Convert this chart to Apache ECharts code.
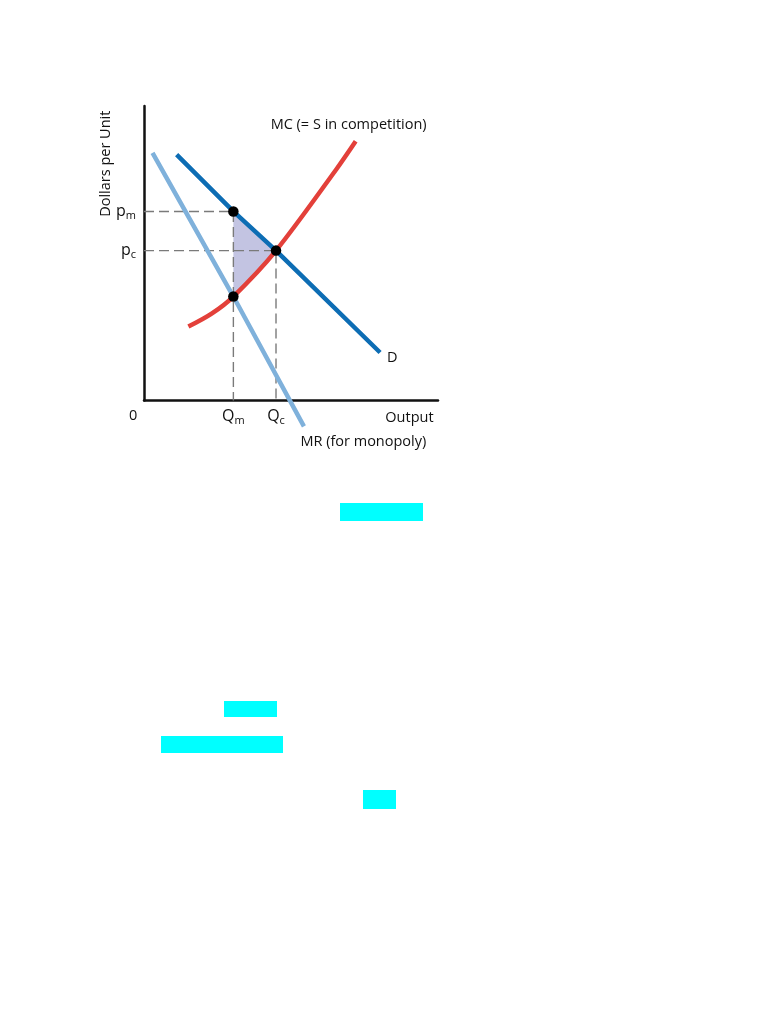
<!DOCTYPE html>
<html>
<head>
<meta charset="utf-8">
<script src="https://cdn.jsdelivr.net/npm/echarts@6/dist/echarts.min.js"></script>
<style>
html,body{margin:0;padding:0;background:#fff;}
#c{width:784px;height:1015px;}
</style>
</head>
<body>
<div id="c"></div>
<script>
// ---- data (axes run 0..10 in arbitrary units) ----
const qm = 3.04, qc = 4.49;          // monopoly / competitive output
const pm = 6.42, pc = 5.09;          // monopoly / competitive price
const mcAtQm = 3.53;                 // MC = MR at Qm
const demandX = [1.11, qm, qc, 8.03];
const demandY = [8.35, pm, pc, 1.63];
const mrX = [0.29, qm, 5.44];
const mrY = [8.41, mcAtQm, -0.88];
const mcX = [1.51, 2.30, qm, qc, 6.55, 7.20];
const mcY = [2.51, 2.95, mcAtQm, pc, 7.86, 8.80];
const yTickValues = [pm, pc];
const yTickLabels = ['{b|p}{s|m}', '{b|p}{s|c}'];
const xTickValues = [qm, qc];
const xTickLabels = ['{b|Q}{s|m}', '{b|Q}{s|c}'];
const textX = [6.96, 8.44, 7.46, 9.03, -0.37, -1.29];
const textY = [9.37, 1.46, -1.40, -0.60, -0.53, 8.04];
const textS = ['MC (= S in competition)', 'D', 'MR (for monopoly)', 'Output', '0', 'Dollars per Unit'];
const textRot = [0, 0, 0, 0, 0, 90];

const zip = (xs, ys) => xs.map((x, i) => [x, ys[i]]);
const FONT = 'Open Sans';
const rich = {
  b: {fontFamily: FONT, fontSize: 16, color: '#111'},
  s: {fontFamily: FONT, fontSize: 11, color: '#111', padding: [9, 0, 0, 0]}
};

const chart = echarts.init(document.getElementById('c'), null, {renderer: 'canvas'});
chart.setOption({
  animation: false,
  backgroundColor: '#fff',
  grid: {left: 144, top: 106, width: 294, height: 294.5, containLabel: false},
  xAxis: {
    type: 'value', min: 0, max: 10,
    splitLine: {show: false},
    axisLine: {show: true, onZero: false, lineStyle: {color: '#111', width: 2.5}},
    axisTick: {show: false},
    axisLabel: {
      show: true, margin: 6, customValues: xTickValues,
      formatter: v => xTickLabels[xTickValues.indexOf(v)] || '',
      rich: rich
    }
  },
  yAxis: {
    type: 'value', min: 0, max: 10,
    splitLine: {show: false},
    axisLine: {show: true, onZero: false, lineStyle: {color: '#111', width: 2.5}},
    axisTick: {show: false},
    axisLabel: {
      show: true, margin: 8, customValues: yTickValues,
      formatter: v => yTickLabels[yTickValues.indexOf(v)] || '',
      rich: rich
    }
  },
  graphic: [
    {type: 'rect', shape: {x: 340, y: 503, width: 83, height: 18}, style: {fill: '#00ffff'}},
    {type: 'rect', shape: {x: 224, y: 701, width: 53, height: 16}, style: {fill: '#00ffff'}},
    {type: 'rect', shape: {x: 161, y: 736, width: 122, height: 17}, style: {fill: '#00ffff'}},
    {type: 'rect', shape: {x: 363, y: 790, width: 33, height: 19}, style: {fill: '#00ffff'}}
  ],
  series: [
    {
      type: 'custom', name: 'deadweight', z: 1,
      data: [[qm, pm, qc, pc, qm, mcAtQm]],
      renderItem: (params, api) => {
        const a = api.coord([api.value(0), api.value(1)]);
        const b = api.coord([api.value(2), api.value(3)]);
        const c = api.coord([api.value(4), api.value(5)]);
        return {type: 'polygon', shape: {points: [a, b, c]}, style: {fill: '#c3c4e2'}};
      }
    },
    {type: 'line', z: 2, clip: false, symbol: 'none', data: [[0, pm], [qm, pm], [qm, 0]],
     lineStyle: {color: '#7a7a7a', width: 1.4, type: [10, 5]}},
    {type: 'line', z: 2, clip: false, symbol: 'none', data: [[0, pc], [qc, pc], [qc, 0]],
     lineStyle: {color: '#7a7a7a', width: 1.4, type: [10, 5]}},
    {type: 'line', name: 'MR', z: 3, clip: false, symbol: 'none', data: zip(mrX, mrY),
     lineStyle: {color: '#7fb1db', width: 4.5, cap: 'butt'}},
    {type: 'line', name: 'MC', z: 4, clip: false, symbol: 'none', smooth: 0.3, data: zip(mcX, mcY),
     lineStyle: {color: '#e3403a', width: 4.5, cap: 'butt'}},
    {type: 'line', name: 'D', z: 5, clip: false, symbol: 'none', data: zip(demandX, demandY),
     lineStyle: {color: '#0d6db4', width: 4.5, cap: 'butt'}},
    {type: 'scatter', z: 6, clip: false, symbol: 'circle', symbolSize: 10.5,
     itemStyle: {color: '#000', opacity: 1},
     data: [[qm, pm], [qc, pc], [qm, mcAtQm]]},
    {type: 'scatter', z: 7, clip: false, symbolSize: 0, silent: true,
     itemStyle: {opacity: 1},
     data: textS.map((s, i) => ({value: [textX[i], textY[i], s],
       label: {rotate: textRot[i]}})),
     label: {show: true, position: 'inside', formatter: p => p.data.value[2],
       fontFamily: FONT, fontSize: 14.5, color: '#111'}}
  ]
});
</script>
</body>
</html>
